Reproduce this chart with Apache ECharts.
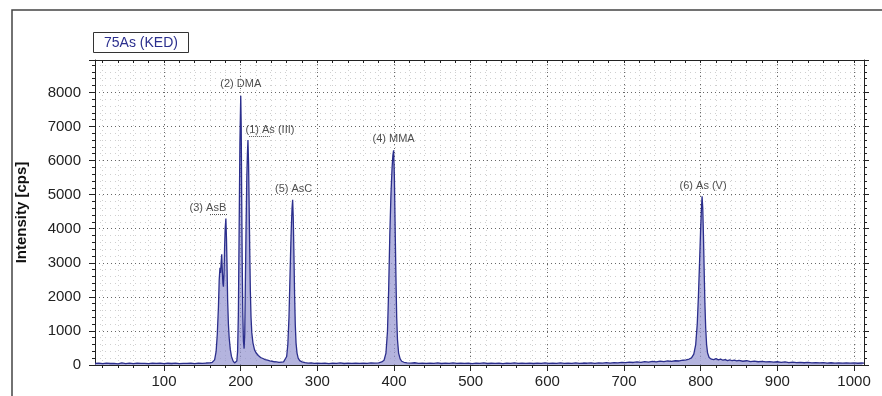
<!DOCTYPE html>
<html><head><meta charset="utf-8">
<script src="https://cdn.jsdelivr.net/npm/echarts@6/dist/echarts.min.js"></script>
<style>html,body{margin:0;padding:0;background:#fff}#c{width:882px;height:396px}</style>
</head><body><div id="c"></div>
<script>
// Retention time (s) and intensity (cps)
const timeS = [10,15,20,25,30,35,40,45,50,55,60,65,70,75,80,85,90,95,100,105,110,115,120,125,130,135,140,145,150,155,160,163,166,168,169.5,171,172,173,173.8,174.5,175.3,176,176.8,177.5,178.3,179,179.8,180.7,181.5,182.3,183,184,185,186.5,188,190,192,193.5,195,196,197,198,199,199.6,200.1,200.7,201.3,202,202.8,203.6,204.5,205.3,206,207,208,208.8,209.5,210.3,211,211.8,212.6,213.5,214.5,216,218,220,223,226,229,232,235,238,241,244,247,250,253,256,258,260,261.5,263,264,265,266,267,267.8,268.6,269.5,270.3,271.2,272.2,273.5,275,277,280,284,288,292,296,300,305,310,315,320,325,330,335,340,345,350,355,360,365,370,375,380,384,387,389.5,391.5,393,394.5,396,397.5,398.5,399.5,400.5,401.5,402.5,403.5,404.5,406,408,410,413,417,422,427,432,437,442,447,452,457,462,467,472,477,482,487,492,497,502,507,512,517,522,527,532,537,542,547,552,557,562,567,572,577,582,587,592,597,602,607,612,617,622,627,632,637,642,647,652,657,662,667,672,677,682,687,692,697,702,707,712,717,722,727,732,737,742,747,752,757,762,767,772,777,781,785,788,791,793.5,795.5,797,798.5,799.8,800.8,801.8,802.7,803.6,804.5,805.5,806.5,807.7,809,811,814,817,820,823,826,829,832,835,838,841,844,847,850,855,860,865,870,875,880,885,890,895,900,905,910,915,920,925,930,935,940,945,950,955,960,965,970,975,980,985,990,995,1000,1005,1010,1013];
const intensity = [45,52,38,58,44,50,36,60,42,53,40,57,45,50,41,58,47,54,40,52,44,58,42,50,46,56,41,54,48,58,62,80,150,400,900,1700,2500,2850,2700,3000,3250,2800,2400,2300,2700,3400,4000,4300,3700,2800,1900,1200,800,450,250,120,60,50,120,400,1500,4000,6500,7300,7900,7000,5000,3000,1500,700,480,900,2200,4000,5500,6200,6600,5900,4800,3400,2200,1400,950,650,450,360,280,220,190,160,140,120,110,95,90,80,85,90,120,250,600,1400,2300,3200,4000,4600,4850,4300,3200,2100,1200,650,350,200,130,90,70,55,65,50,58,45,55,42,56,48,60,44,55,46,58,45,52,47,60,55,65,90,140,350,1000,2200,3800,5000,5800,6150,6300,5500,4000,2600,1400,750,350,180,110,80,60,55,66,48,58,45,55,50,62,44,56,48,60,45,53,47,58,42,55,49,60,44,52,48,57,43,56,50,61,45,54,47,58,44,55,49,62,46,57,48,60,45,55,50,62,47,58,52,64,49,60,55,68,58,72,62,80,68,85,74,90,80,98,85,105,92,112,100,118,108,125,118,140,150,175,210,320,600,1200,2000,3000,3900,4500,4950,4600,3800,2800,1800,1100,600,350,220,170,160,185,150,170,140,160,130,150,125,140,118,135,110,125,100,115,95,108,90,102,85,95,80,90,72,85,70,80,66,76,62,72,60,70,58,66,55,65,56,62,54,60,52,58,55];

// Peak annotations
const peakNames = ['(1) As (III)', '(2) DMA', '(3) AsB', '(4) MMA', '(5) AsC', '(6) As (V)'];
const peakTimes = [209.5, 200.1, 180.7, 399.5, 267.8, 801.8];
const peakHeights = [6600, 7900, 4300, 6300, 4850, 4950];
// Dotted leader lines under two labels: [startTime, endTime, intensity]
const leaderAsIII = [211, 238, 6700];
const leaderAsB = [160, 183, 4430];

// Axis ticks
const xTickLabels = [100, 200, 300, 400, 500, 600, 700, 800, 900, 1000];
const xMinorTicks = [20,40,60,80,100,120,140,160,180,200,220,240,260,280,300,320,340,360,380,400,420,440,460,480,500,520,540,560,580,600,620,640,660,680,700,720,740,760,780,800,820,840,860,880,900,920,940,960,980,1000];
const yTickLabels = [0, 1000, 2000, 3000, 4000, 5000, 6000, 7000, 8000];

const FONT = 'Liberation Sans, Arial, sans-serif';
const labelStyle = [
  {offset: [22, 0], distance: 5},
  {offset: [0, 0], distance: 6},
  {offset: [-18, 0], distance: 5},
  {offset: [0, 0], distance: 6},
  {offset: [1, 0], distance: 5},
  {offset: [1, 0], distance: 5}
];

const chart = echarts.init(document.getElementById('c'), null, {renderer: 'canvas'});
const X0 = 10, X1 = 1013, Y1 = 8950;

chart.setOption({
  animation: false,
  backgroundColor: '#fff',
  title: {
    text: '75As (KED)', left: 93, top: 32,
    padding: [4, 11, 3, 11], borderColor: '#333', borderWidth: 1,
    textStyle: {fontSize: 14, fontWeight: 'normal', color: '#2B2F8E', fontFamily: FONT}
  },
  graphic: [
    {type: 'rect', shape: {x: 12, y: 10, width: 1000, height: 600}, style: {fill: null, stroke: '#444', lineWidth: 1.5}, silent: true}
  ],
  grid: {left: 95, right: 18, top: 60, bottom: 31},
  xAxis: [
    {
      type: 'value', position: 'bottom', min: X0, max: X1,
      axisLine: {show: true, onZero: false, lineStyle: {color: '#222', width: 1}},
      axisTick: {show: true, customValues: xTickLabels, length: 6, lineStyle: {color: '#222'}},
      axisLabel: {customValues: xTickLabels, fontSize: 15, color: '#222', margin: 9, fontFamily: FONT, formatter: v => String(v)},
      splitLine: {show: true, lineStyle: {type: [1, 3], color: '#666', width: 1}}
    },
    {
      type: 'value', position: 'bottom', min: X0, max: X1,
      axisLine: {show: false, onZero: false},
      axisTick: {show: true, customValues: xMinorTicks, length: 3, lineStyle: {color: '#222'}},
      axisLabel: {show: false, customValues: xMinorTicks},
      splitLine: {show: true, lineStyle: {type: [1, 4], color: '#cfcfcf', width: 1}}
    },
    {
      type: 'value', position: 'top', min: X0, max: X1,
      axisLine: {show: true, onZero: false, lineStyle: {color: '#222', width: 1}},
      axisTick: {show: true, inside: true, customValues: xMinorTicks, length: 3, lineStyle: {color: '#222'}},
      axisLabel: {show: false, customValues: xMinorTicks},
      splitLine: {show: false}
    }
  ],
  yAxis: [
    {
      type: 'value', position: 'left', min: 0, max: Y1, interval: 1000,
      name: 'Intensity [cps]', nameLocation: 'middle', nameGap: 66,
      nameTextStyle: {fontSize: 15, fontWeight: 'bold', color: '#111', fontFamily: FONT},
      axisLine: {show: true, onZero: false, lineStyle: {color: '#222', width: 1}},
      axisTick: {show: true, length: 6, lineStyle: {color: '#222'}},
      minorTick: {show: true, splitNumber: 5, length: 3, lineStyle: {color: '#222'}},
      axisLabel: {fontSize: 15, color: '#222', margin: 14, fontFamily: FONT, customValues: yTickLabels, formatter: v => String(v)},
      splitLine: {show: true, lineStyle: {type: [1, 3], color: '#666', width: 1}},
      minorSplitLine: {show: true, lineStyle: {type: [1, 4], color: '#cfcfcf', width: 1}}
    },
    {
      type: 'value', position: 'right', min: 0, max: Y1, interval: 1000,
      axisLine: {show: true, onZero: false, lineStyle: {color: '#222', width: 1}},
      axisTick: {show: true, length: 5, lineStyle: {color: '#222'}},
      minorTick: {show: true, splitNumber: 5, length: 3, lineStyle: {color: '#222'}},
      axisLabel: {show: false},
      splitLine: {show: false}
    }
  ],
  series: [
    {
      type: 'line', xAxisIndex: 0, yAxisIndex: 0,
      data: timeS.map((t, i) => [t, intensity[i]]),
      symbol: 'none', smooth: false,
      lineStyle: {color: '#2B2E8C', width: 1.3},
      areaStyle: {color: '#9494D0', opacity: 0.7},
      z: 3
    },
    {
      type: 'scatter', xAxisIndex: 0, yAxisIndex: 0,
      symbolSize: 0, silent: true, z: 5,
      data: peakNames.map((n, i) => ({
        name: n, value: [peakTimes[i], peakHeights[i]],
        label: {show: true, position: 'top', formatter: n,
          offset: labelStyle[i].offset, distance: labelStyle[i].distance,
          fontSize: 11, color: '#222', fontFamily: FONT}
      })),
      markLine: {
        silent: true, symbol: 'none', animation: false,
        label: {show: false},
        lineStyle: {type: [1, 1], color: '#555', width: 1},
        data: [
          [{coord: [leaderAsIII[0], leaderAsIII[2]]}, {coord: [leaderAsIII[1], leaderAsIII[2]]}],
          [{coord: [leaderAsB[0], leaderAsB[2]]}, {coord: [leaderAsB[1], leaderAsB[2]]}]
        ]
      }
    }
  ]
});
</script></body></html>
